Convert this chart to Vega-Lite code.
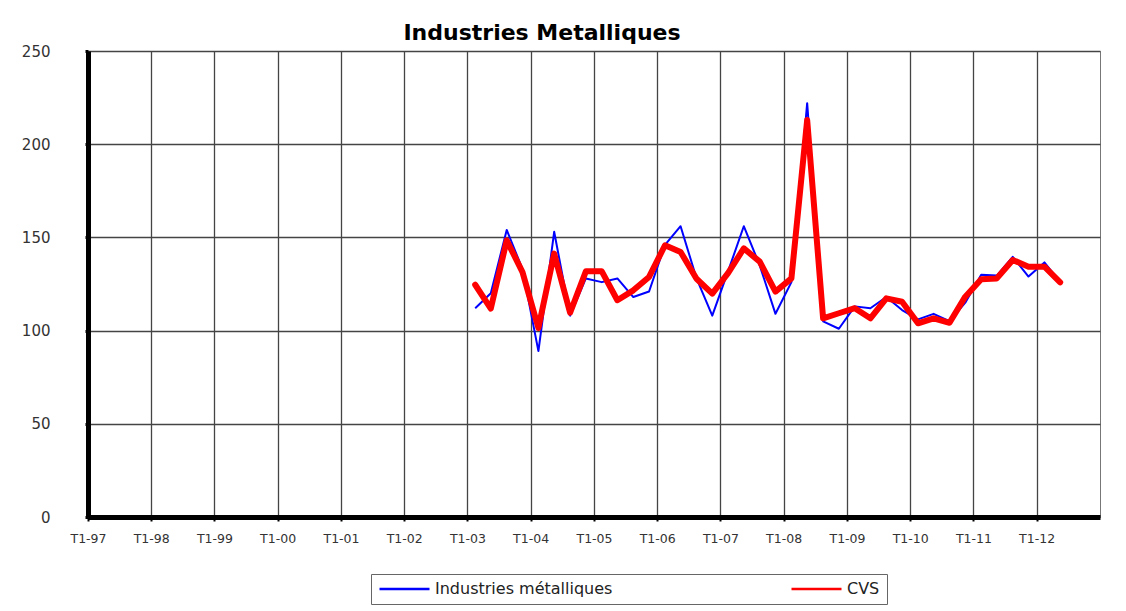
{
  "$schema": "https://vega.github.io/schema/vega-lite/v6.json",
  "width": 1012,
  "height": 466,
  "autosize": {"type": "none"},
  "padding": {"left": 88, "top": 51, "right": 26, "bottom": 94},
  "background": "white",
  "title": {
    "text": "Industries Metalliques",
    "font": "DejaVu Sans",
    "fontSize": 22,
    "fontWeight": "bold",
    "color": "black",
    "anchor": "middle",
    "dx": -52,
    "offset": -1
  },
  "data": {
    "values": [
      {"trimestre": "2003-02-15", "serie": "Industries métalliques", "valeur": 112},
      {"trimestre": "2003-05-16", "serie": "Industries métalliques", "valeur": 120},
      {"trimestre": "2003-08-16", "serie": "Industries métalliques", "valeur": 154},
      {"trimestre": "2003-11-15", "serie": "Industries métalliques", "valeur": 133},
      {"trimestre": "2004-02-15", "serie": "Industries métalliques", "valeur": 89},
      {"trimestre": "2004-05-16", "serie": "Industries métalliques", "valeur": 153},
      {"trimestre": "2004-08-16", "serie": "Industries métalliques", "valeur": 108},
      {"trimestre": "2004-11-15", "serie": "Industries métalliques", "valeur": 128},
      {"trimestre": "2005-02-15", "serie": "Industries métalliques", "valeur": 126},
      {"trimestre": "2005-05-16", "serie": "Industries métalliques", "valeur": 128},
      {"trimestre": "2005-08-16", "serie": "Industries métalliques", "valeur": 118},
      {"trimestre": "2005-11-15", "serie": "Industries métalliques", "valeur": 121},
      {"trimestre": "2006-02-15", "serie": "Industries métalliques", "valeur": 146},
      {"trimestre": "2006-05-16", "serie": "Industries métalliques", "valeur": 156},
      {"trimestre": "2006-08-16", "serie": "Industries métalliques", "valeur": 128},
      {"trimestre": "2006-11-15", "serie": "Industries métalliques", "valeur": 108},
      {"trimestre": "2007-02-15", "serie": "Industries métalliques", "valeur": 132},
      {"trimestre": "2007-05-16", "serie": "Industries métalliques", "valeur": 156},
      {"trimestre": "2007-08-16", "serie": "Industries métalliques", "valeur": 135},
      {"trimestre": "2007-11-15", "serie": "Industries métalliques", "valeur": 109},
      {"trimestre": "2008-02-15", "serie": "Industries métalliques", "valeur": 126},
      {"trimestre": "2008-05-16", "serie": "Industries métalliques", "valeur": 222},
      {"trimestre": "2008-08-16", "serie": "Industries métalliques", "valeur": 105},
      {"trimestre": "2008-11-15", "serie": "Industries métalliques", "valeur": 101},
      {"trimestre": "2009-02-15", "serie": "Industries métalliques", "valeur": 113},
      {"trimestre": "2009-05-16", "serie": "Industries métalliques", "valeur": 112},
      {"trimestre": "2009-08-16", "serie": "Industries métalliques", "valeur": 118},
      {"trimestre": "2009-11-15", "serie": "Industries métalliques", "valeur": 111},
      {"trimestre": "2010-02-15", "serie": "Industries métalliques", "valeur": 106},
      {"trimestre": "2010-05-16", "serie": "Industries métalliques", "valeur": 109},
      {"trimestre": "2010-08-16", "serie": "Industries métalliques", "valeur": 105},
      {"trimestre": "2010-11-15", "serie": "Industries métalliques", "valeur": 115},
      {"trimestre": "2011-02-15", "serie": "Industries métalliques", "valeur": 130},
      {"trimestre": "2011-05-16", "serie": "Industries métalliques", "valeur": 129.5},
      {"trimestre": "2011-08-16", "serie": "Industries métalliques", "valeur": 139.6},
      {"trimestre": "2011-11-15", "serie": "Industries métalliques", "valeur": 129},
      {"trimestre": "2012-02-15", "serie": "Industries métalliques", "valeur": 136.6},
      {"trimestre": "2012-05-16", "serie": "Industries métalliques", "valeur": 126},
      {"trimestre": "2003-02-15", "serie": "CVS", "valeur": 124.6},
      {"trimestre": "2003-05-16", "serie": "CVS", "valeur": 111.8},
      {"trimestre": "2003-08-16", "serie": "CVS", "valeur": 148.4},
      {"trimestre": "2003-11-15", "serie": "CVS", "valeur": 131.4},
      {"trimestre": "2004-02-15", "serie": "CVS", "valeur": 101.4},
      {"trimestre": "2004-05-16", "serie": "CVS", "valeur": 141.3},
      {"trimestre": "2004-08-16", "serie": "CVS", "valeur": 109.6},
      {"trimestre": "2004-11-15", "serie": "CVS", "valeur": 131.8},
      {"trimestre": "2005-02-15", "serie": "CVS", "valeur": 131.8},
      {"trimestre": "2005-05-16", "serie": "CVS", "valeur": 116.3},
      {"trimestre": "2005-08-16", "serie": "CVS", "valeur": 121.6},
      {"trimestre": "2005-11-15", "serie": "CVS", "valeur": 128.8},
      {"trimestre": "2006-02-15", "serie": "CVS", "valeur": 145.8},
      {"trimestre": "2006-05-16", "serie": "CVS", "valeur": 142.2},
      {"trimestre": "2006-08-16", "serie": "CVS", "valeur": 127.8},
      {"trimestre": "2006-11-15", "serie": "CVS", "valeur": 119.8},
      {"trimestre": "2007-02-15", "serie": "CVS", "valeur": 131},
      {"trimestre": "2007-05-16", "serie": "CVS", "valeur": 144.1},
      {"trimestre": "2007-08-16", "serie": "CVS", "valeur": 137},
      {"trimestre": "2007-11-15", "serie": "CVS", "valeur": 120.9},
      {"trimestre": "2008-02-15", "serie": "CVS", "valeur": 128},
      {"trimestre": "2008-05-16", "serie": "CVS", "valeur": 213},
      {"trimestre": "2008-08-16", "serie": "CVS", "valeur": 106.6},
      {"trimestre": "2008-11-15", "serie": "CVS", "valeur": 109.3},
      {"trimestre": "2009-02-15", "serie": "CVS", "valeur": 112},
      {"trimestre": "2009-05-16", "serie": "CVS", "valeur": 106.6},
      {"trimestre": "2009-08-16", "serie": "CVS", "valeur": 117.3},
      {"trimestre": "2009-11-15", "serie": "CVS", "valeur": 115.5},
      {"trimestre": "2010-02-15", "serie": "CVS", "valeur": 103.9},
      {"trimestre": "2010-05-16", "serie": "CVS", "valeur": 106.6},
      {"trimestre": "2010-08-16", "serie": "CVS", "valeur": 104.2},
      {"trimestre": "2010-11-15", "serie": "CVS", "valeur": 118.2},
      {"trimestre": "2011-02-15", "serie": "CVS", "valeur": 127.5},
      {"trimestre": "2011-05-16", "serie": "CVS", "valeur": 128},
      {"trimestre": "2011-08-16", "serie": "CVS", "valeur": 137.9},
      {"trimestre": "2011-11-15", "serie": "CVS", "valeur": 134.3},
      {"trimestre": "2012-02-15", "serie": "CVS", "valeur": 134.3},
      {"trimestre": "2012-05-16", "serie": "CVS", "valeur": 125.9}
    ]
  },
  "encoding": {
    "x": {
      "field": "trimestre",
      "type": "temporal",
      "scale": {"type": "utc", "domain": [{"year": 1997, "month": 1, "date": 1, "utc": true}, {"year": 2013, "month": 1, "date": 1, "utc": true}]},
      "axis": {
        "title": null,
        "values": [
          {"year": 1997, "utc": true}, {"year": 1998, "utc": true}, {"year": 1999, "utc": true},
          {"year": 2000, "utc": true}, {"year": 2001, "utc": true}, {"year": 2002, "utc": true},
          {"year": 2003, "utc": true}, {"year": 2004, "utc": true}, {"year": 2005, "utc": true},
          {"year": 2006, "utc": true}, {"year": 2007, "utc": true}, {"year": 2008, "utc": true},
          {"year": 2009, "utc": true}, {"year": 2010, "utc": true}, {"year": 2011, "utc": true},
          {"year": 2012, "utc": true}
        ],
        "labelExpr": "'T1-' + utcFormat(datum.value, '%y')",
        "labelFont": "DejaVu Sans",
        "labelFontSize": 12.5,
        "labelColor": "#333",
        "labelPadding": 11,
        "labelFlush": false,
        "labelOverlap": false,
        "domainColor": "black",
        "domainWidth": 5,
        "tickColor": "black",
        "tickWidth": 2,
        "tickSize": 4,
        "grid": true,
        "gridColor": "#444",
        "gridWidth": 1.3
      }
    },
    "y": {
      "field": "valeur",
      "type": "quantitative",
      "scale": {"domain": [0, 250], "nice": false, "zero": true},
      "axis": {
        "title": null,
        "values": [0, 50, 100, 150, 200, 250],
        "labelFont": "DejaVu Sans",
        "labelFontSize": 15,
        "labelColor": "#333",
        "labelPadding": 35,
        "labelFlush": false,
        "domainColor": "black",
        "domainWidth": 5,
        "tickColor": "black",
        "tickWidth": 3,
        "tickSize": 3,
        "grid": true,
        "gridColor": "#444",
        "gridWidth": 1.3
      }
    },
    "color": {
      "field": "serie",
      "type": "nominal",
      "scale": {"domain": ["Industries métalliques", "CVS"], "range": ["#0000ff", "#ff0000"]},
      "legend": {
        "title": null,
        "orient": "none",
        "legendX": 283,
        "legendY": 523,
        "direction": "horizontal",
        "columns": 2,
        "gridAlign": "all",
        "columnPadding": 177,
        "padding": 7,
        "strokeColor": "#666",
        "fillColor": "white",
        "symbolType": "stroke",
        "symbolSize": 2500,
        "clipHeight": 16,
        "symbolStrokeWidth": 2.5,
        "labelFont": "DejaVu Sans",
        "labelFontSize": 16,
        "labelLimit": 400,
        "labelColor": "#222",
        "labelOffset": 4
      }
    }
  },
  "layer": [
    {
      "transform": [{"filter": {"field": "serie", "equal": "Industries métalliques"}}],
      "mark": {"type": "line", "strokeWidth": 2, "strokeJoin": "round"}
    },
    {
      "transform": [{"filter": {"field": "serie", "equal": "CVS"}}],
      "mark": {"type": "line", "strokeWidth": 6, "strokeJoin": "round", "strokeCap": "round"}
    }
  ],
  "config": {
    "view": {"stroke": "#777", "strokeWidth": 1}
  }
}
